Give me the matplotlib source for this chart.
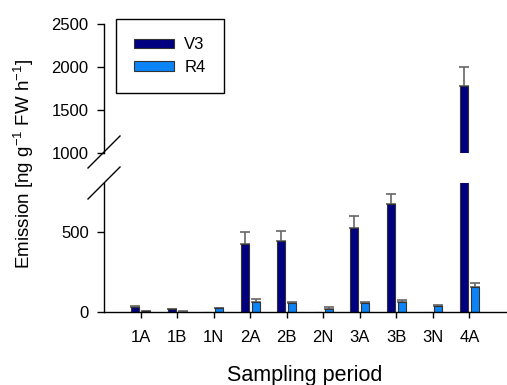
import matplotlib
matplotlib.use("Agg")
import matplotlib.pyplot as plt
import numpy as np

plt.rcParams['font.family'] = ['Liberation Sans', 'DejaVu Sans']

categories = ["1A", "1B", "1N", "2A", "2B", "2N", "3A", "3B", "3N", "4A"]
v3 = [32, 18, 0, 425, 440, 0, 523, 677, 0, 1775]
v3_err = [8, 3, 0, 73, 66, 0, 79, 58, 0, 222]
r4 = [5, 3, 22, 65, 56, 21, 54, 60, 40, 154]
r4_err = [2, 1, 6, 16, 8, 8, 10, 15, 4, 27]

c_v3 = "#000080"
c_r4 = "#0A84F7"
edge = "#333333"
errc = "#666666"

fig = plt.figure(figsize=(5.07, 3.85), dpi=100)
W, H = 507, 385
left, right = 104 / W, 506 / W
ax_lo = fig.add_axes([left, 1 - 312 / H, right - left, (312 - 183) / H])
ax_hi = fig.add_axes([left, 1 - 152.7 / H, right - left, (152.7 - 24) / H])

x = np.arange(1, len(categories) + 1)
off, bw = 0.15, 0.22
ekw = dict(fmt="none", ecolor=errc, elinewidth=1.2, capsize=3.5, capthick=1.2, zorder=1)

for ax in (ax_lo, ax_hi):
    for vals, errs, sign, col, lab in ((v3, v3_err, -1, c_v3, "V3"), (r4, r4_err, 1, c_r4, "R4")):
        vals = np.asarray(vals, float)
        errs = np.asarray(errs, float)
        pos = x + sign * off
        ax.bar(pos, vals, width=bw, color=col, edgecolor=edge, linewidth=0.8, label=lab, zorder=2)
        m = vals > 0
        ax.errorbar(pos[m], vals[m], yerr=[np.zeros(m.sum()), errs[m]], **ekw)
    ax.set_xlim(0, 11)
    for s in ("top", "right"):
        ax.spines[s].set_visible(False)
    ax.spines["left"].set_linewidth(1.0)
    ax.tick_params(axis="y", direction="out", length=5, width=1, labelsize=12, pad=6)

ax_lo.set_ylim(0, 805)
ax_lo.set_yticks([0, 500])
ax_lo.set_xticks(x)
ax_lo.set_xticklabels(categories)
ax_lo.tick_params(axis="x", direction="out", length=4, width=1, labelsize=12, pad=9)
ax_lo.spines["bottom"].set_linewidth(1.0)

ax_hi.set_ylim(1000, 2500)
ax_hi.set_yticks([1000, 1500, 2000, 2500])
ax_hi.spines["bottom"].set_visible(False)
ax_hi.set_xticks([])

# break marks
for yc in (152, 183):
    fig.add_artist(plt.Line2D([88 / W, 120 / W], [1 - (yc + 16) / H, 1 - (yc - 16) / H],
                              color="black", linewidth=1.0))

fig.text(305 / W, 1 - 381 / H, "Sampling period", ha="center", va="baseline", fontsize=15.5)
fig.text(24 / W, 1 - 164 / H, "Emission [ng g$^{\\mathregular{-1}}$ FW h$^{\\mathregular{-1}}$]",
         rotation=90, ha="center", va="center", fontsize=13.5)

leg = ax_hi.legend(loc="upper left", bbox_to_anchor=(116 / W, 1 - 19 / H),
                   bbox_transform=fig.transFigure, fontsize=12, frameon=True,
                   fancybox=False, edgecolor="black", framealpha=1,
                   handlelength=2.4, handleheight=0.5, handletextpad=0.6,
                   labelspacing=0.45, borderpad=1.1, borderaxespad=0)
leg.get_frame().set_linewidth(1.0)

fig.savefig("out.png", dpi=100)
